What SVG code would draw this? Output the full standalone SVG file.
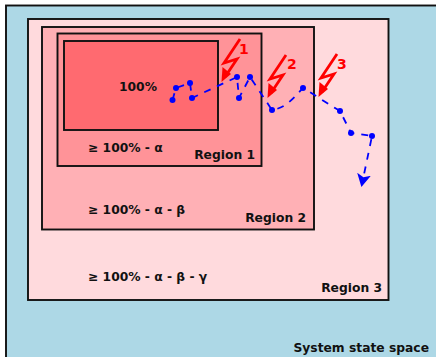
<svg xmlns="http://www.w3.org/2000/svg" width="436" height="357" viewBox="0 0 436 357">
<defs>
<style>
.r{stroke:#111;stroke-width:1.900}
text{font-family:"DejaVu Sans",sans-serif;font-weight:bold;font-size:12.300px;fill:#111}
.n{fill:#ff0000;font-size:14px}
.d{fill:#0000ff}
</style>
<marker id="ah" markerWidth="16" markerHeight="16" refX="10" refY="7" orient="auto" markerUnits="userSpaceOnUse"><path d="M0,0L13,7L0,14L3,7Z" fill="#0000ff"/></marker>
<g id="bolt"><path d="M0,0L-16,24L-3,20L-15,38" fill="none" stroke="#ff0000" stroke-width="2.800"/><path d="M-18.500,43L-17.500,28L-9,35Z" fill="#ff0000"/></g>
</defs>
<rect width="436" height="357" fill="#fff"/>
<g id="space"><rect class="r" x="6" y="5.500" width="440" height="362" fill="#add8e6"/><text x="429" y="352" text-anchor="end">System state space</text></g>
<g id="region3"><rect class="r" x="28" y="19" width="360.500" height="281" fill="#ffdadd"/><text x="382" y="292" text-anchor="end">Region 3</text><text x="88" y="281">≥ 100% - α - β - γ</text></g>
<g id="region2"><rect class="r" x="42" y="27" width="272" height="202.500" fill="#ffb0b5"/><text x="306" y="222" text-anchor="end">Region 2</text><text x="88" y="214">≥ 100% - α - β</text></g>
<g id="region1"><rect class="r" x="57.500" y="33.500" width="204" height="132.500" fill="#ff9398"/><text x="255" y="159" text-anchor="end">Region 1</text><text x="88" y="152">≥ 100% - α</text></g>
<g id="core"><rect class="r" x="64" y="41" width="154" height="89" fill="#ff6a70"/><text x="119" y="91">100%</text></g>
<g id="connectors">
<path d="M172.500,100L176,88L190,83L192,98L237,77L239,98L250,77L272,110C285,108 292,100 303,88C315,95 328,104 340,111L351,133L372,136L362,184" fill="none" stroke="#0000ff" stroke-width="1.800" stroke-dasharray="7 7" marker-end="url(#ah)"/>
<g class="d">
<circle cx="172.500" cy="100" r="3"/><circle cx="176" cy="88" r="3"/><circle cx="190" cy="83" r="3"/><circle cx="192" cy="98" r="3"/><circle cx="237" cy="77" r="3"/><circle cx="239" cy="98" r="3"/><circle cx="250" cy="77" r="3"/><circle cx="272" cy="110" r="3"/><circle cx="303" cy="88" r="3"/><circle cx="340" cy="111" r="3"/><circle cx="351" cy="133" r="3"/><circle cx="372" cy="136" r="3"/>
</g>
</g>
<g id="fault1"><use href="#bolt" x="240" y="39"/><text class="n" x="239" y="54">1</text></g>
<g id="fault2"><use href="#bolt" x="286" y="55"/><text class="n" x="287" y="69">2</text></g>
<g id="fault3"><use href="#bolt" x="337" y="54"/><text class="n" x="337" y="69">3</text></g>
</svg>
